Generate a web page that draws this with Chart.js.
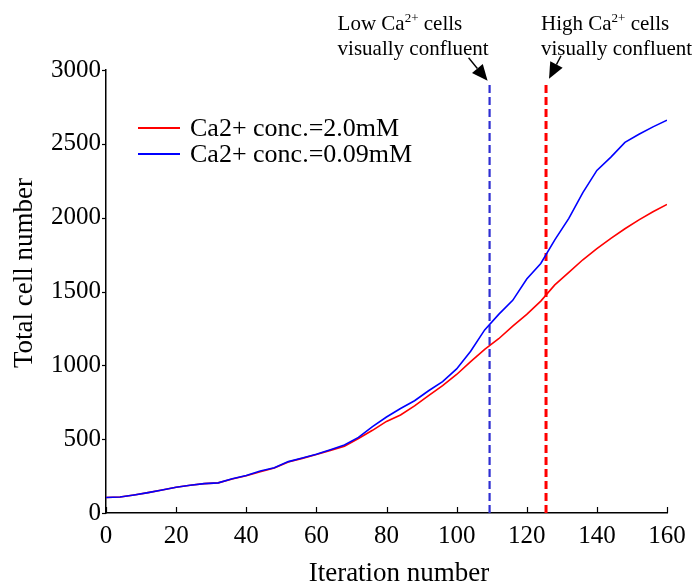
<!DOCTYPE html>
<html>
<head>
<meta charset="utf-8">
<script src="https://cdn.jsdelivr.net/npm/chart.js@4.4.1/dist/chart.umd.min.js"></script>
<style>
  html, body { margin: 0; padding: 0; background: #fff; }
  #wrap { width: 695px; height: 586px; }
</style>
</head>
<body>
<div id="wrap"><canvas id="chart"></canvas></div>
<script>
// iteration steps sampled off the curves
const iterations = [0, 4, 8, 12, 16, 20, 24, 28, 32, 36, 40, 44, 48, 52, 56, 60, 64, 68, 72, 76, 80,
                    84, 88, 92, 96, 100, 104, 108, 112, 116, 120, 124, 128, 132, 136, 140, 144, 148, 152, 156, 160];
// Ca2+ conc. = 2.0mM (red)
const highCaCells = [105, 108, 122, 138, 156, 174, 188, 199, 204, 230, 252, 280, 304, 345, 370, 396, 424, 452, 505, 560, 620,
                     664, 725, 795, 862, 938, 1025, 1108, 1180, 1265, 1345, 1435, 1545, 1630, 1715, 1790, 1860, 1925, 1985, 2040, 2090];
// Ca2+ conc. = 0.09mM (blue)
const lowCaCells = [105, 108, 122, 138, 156, 174, 188, 199, 204, 232, 254, 285, 306, 348, 373, 398, 428, 460, 512, 585, 650,
                    708, 760, 828, 890, 976, 1095, 1240, 1345, 1440, 1585, 1690, 1850, 1995, 2170, 2320, 2410, 2510, 2565, 2615, 2660];

const seriesLabels = ['Ca2+ conc.=2.0mM', 'Ca2+ conc.=0.09mM'];
const seriesColors = ['#ff0000', '#0000ff'];

// confluence markers (iteration where cells look confluent)
const lowConfluentAt = 109.4;
const highConfluentAt = 125.5;
const markerTop = 2900;

const xTickValues = [0, 20, 40, 60, 80, 100, 120, 140, 160];
const yTickValues = [0, 500, 1000, 1500, 2000, 2500, 3000];

const xTitle = 'Iteration number';
const yTitle = 'Total cell number';

const serif = '"Liberation Serif", "Times New Roman", serif';

function toPoints(xs, ys) {
    return xs.map((x, i) => ({ x: x, y: ys[i] }));
}

// inward x ticks, short y ticks
const tickMarks = {
    id: 'tickMarks',
    afterDraw(chart) {
        const ctx = chart.ctx;
        const xs = chart.scales.x, ys = chart.scales.y;
        const area = chart.chartArea;
        ctx.save();
        ctx.strokeStyle = '#000';
        ctx.lineWidth = 1.2;
        xTickValues.forEach(v => {
            const px = Math.round(xs.getPixelForValue(v)) + 0.5;
            ctx.beginPath();
            ctx.moveTo(px, area.bottom);
            ctx.lineTo(px, area.bottom - 6);
            ctx.stroke();
        });
        yTickValues.forEach(v => {
            const py = Math.round(ys.getPixelForValue(v)) + 0.5;
            ctx.beginPath();
            ctx.moveTo(area.left - 4, py);
            ctx.lineTo(area.left, py);
            ctx.stroke();
        });
        ctx.restore();
    }
};

// axis titles, placed where the original has them
const axisTitles = {
    id: 'axisTitles',
    afterDraw(chart) {
        const ctx = chart.ctx;
        ctx.save();
        ctx.fillStyle = '#000';
        ctx.font = '27px ' + serif;
        ctx.textAlign = 'center';
        ctx.textBaseline = 'middle';
        ctx.fillText(xTitle, 399, 574);
        ctx.translate(25, 273);
        ctx.rotate(-Math.PI / 2);
        ctx.fillText(yTitle, 0, 0);
        ctx.restore();
    }
};

// legend inside the plot, upper left
const innerLegend = {
    id: 'innerLegend',
    afterDraw(chart) {
        const ctx = chart.ctx;
        ctx.save();
        ctx.font = '26px ' + serif;
        ctx.textBaseline = 'middle';
        ctx.fillStyle = '#000';
        seriesLabels.forEach((label, i) => {
            const y = 128 + i * 26;
            ctx.strokeStyle = seriesColors[i];
            ctx.lineWidth = 2;
            ctx.beginPath();
            ctx.moveTo(138, y);
            ctx.lineTo(180, y);
            ctx.stroke();
            ctx.fillText(label, 190, y + 1);
        });
        ctx.restore();
    }
};

function drawArrow(ctx, x1, y1, x2, y2) {
    const ang = Math.atan2(y2 - y1, x2 - x1);
    const len = 16, half = 7;
    const bx = x2 - len * Math.cos(ang), by = y2 - len * Math.sin(ang);
    ctx.beginPath();
    ctx.moveTo(x1, y1);
    ctx.lineTo(bx, by);
    ctx.stroke();
    ctx.beginPath();
    ctx.moveTo(x2, y2);
    ctx.lineTo(bx + half * Math.sin(ang), by - half * Math.cos(ang));
    ctx.lineTo(bx - half * Math.sin(ang), by + half * Math.cos(ang));
    ctx.closePath();
    ctx.fill();
}

function drawCaLabel(ctx, prefix, x, y) {
    // "Low Ca" + superscript "2+" + " cells"
    ctx.font = '21px ' + serif;
    ctx.fillText(prefix + ' Ca', x, y);
    let w = ctx.measureText(prefix + ' Ca').width;
    ctx.font = '13px ' + serif;
    ctx.fillText('2+', x + w, y - 8);
    w += ctx.measureText('2+').width;
    ctx.font = '21px ' + serif;
    ctx.fillText(' cells', x + w, y);
}

const confluentNotes = {
    id: 'confluentNotes',
    afterDraw(chart) {
        const ctx = chart.ctx;
        const xs = chart.scales.x, ys = chart.scales.y;
        const top = ys.getPixelForValue(markerTop);
        const lowX = xs.getPixelForValue(lowConfluentAt);
        const highX = xs.getPixelForValue(highConfluentAt);
        ctx.save();
        ctx.fillStyle = '#000';
        ctx.strokeStyle = '#000';
        ctx.lineWidth = 1.4;
        ctx.textBaseline = 'alphabetic';

        drawCaLabel(ctx, 'Low', lowX - 152, 30);
        ctx.font = '21px ' + serif;
        ctx.fillText('visually confluent', lowX - 152, 55);
        drawArrow(ctx, lowX - 21, top - 27, lowX - 2, top - 4);

        drawCaLabel(ctx, 'High', highX - 5, 30);
        ctx.font = '21px ' + serif;
        ctx.fillText('visually confluent', highX - 5, 55);
        drawArrow(ctx, highX + 15, top - 29, highX + 3, top - 6);
        ctx.restore();
    }
};

const ctx = document.getElementById('chart').getContext('2d');
new Chart(ctx, {
    type: 'line',
    data: {
        datasets: [
            {
                label: seriesLabels[1],
                data: toPoints(iterations, lowCaCells),
                borderColor: seriesColors[1],
                borderWidth: 1.6,
                pointRadius: 0,
                tension: 0
            },
            {
                label: seriesLabels[0],
                data: toPoints(iterations, highCaCells),
                borderColor: seriesColors[0],
                borderWidth: 1.6,
                pointRadius: 0,
                tension: 0
            },
            {
                label: 'low marker',
                data: [{ x: lowConfluentAt, y: 0 }, { x: lowConfluentAt, y: markerTop }],
                borderColor: '#2f2fd2',
                borderWidth: 2.2,
                borderDash: [8, 4],
                pointRadius: 0
            },
            {
                label: 'high marker',
                data: [{ x: highConfluentAt, y: 0 }, { x: highConfluentAt, y: markerTop }],
                borderColor: '#ff0000',
                borderWidth: 3,
                borderDash: [8, 4],
                pointRadius: 0
            }
        ]
    },
    options: {
        responsive: true,
        maintainAspectRatio: false,
        animation: false,
        layout: { padding: { top: 70, right: 28, left: 0, bottom: 0 } },
        plugins: {
            legend: { display: false },
            tooltip: { enabled: false }
        },
        scales: {
            x: {
                type: 'linear',
                min: 0,
                max: 160,
                afterBuildTicks: s => { s.ticks = xTickValues.map(v => ({ value: v })); },
                afterFit: s => { s.height = 73; },
                grid: { display: false, drawTicks: false },
                border: { display: true, color: '#000', width: 1.5 },
                ticks: {
                    color: '#000',
                    font: { family: serif, size: 25 },
                    padding: 8,
                    maxRotation: 0,
                    callback: v => String(v)
                }
            },
            y: {
                min: 0,
                max: 3000,
                afterBuildTicks: s => { s.ticks = yTickValues.map(v => ({ value: v })); },
                afterFit: s => { s.width = 106; },
                grid: { display: false, drawTicks: false },
                border: { display: true, color: '#000', width: 1.5 },
                ticks: {
                    color: '#000',
                    font: { family: serif, size: 25 },
                    padding: 5,
                    callback: v => String(v)
                }
            }
        }
    },
    plugins: [tickMarks, axisTitles, innerLegend, confluentNotes]
});
</script>
</body>
</html>
